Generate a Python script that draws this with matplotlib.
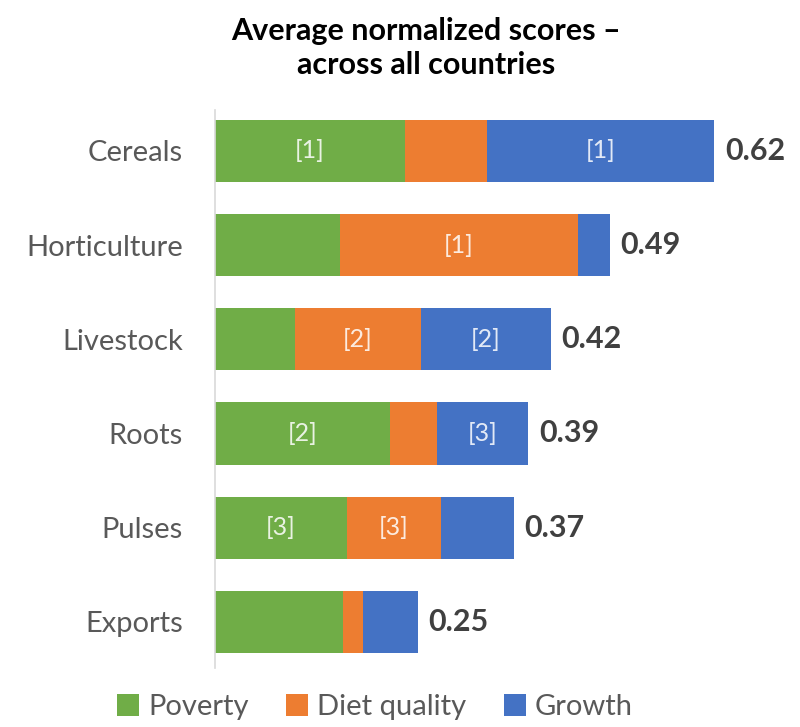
import matplotlib
matplotlib.use("Agg")
import matplotlib.pyplot as plt
import numpy as np

categories = ["Cereals", "Horticulture", "Livestock", "Roots", "Pulses", "Exports"]
poverty = [0.236, 0.155, 0.099, 0.217, 0.164, 0.159]
diet_quality = [0.102, 0.296, 0.157, 0.058, 0.116, 0.025]
growth = [0.282, 0.039, 0.161, 0.114, 0.091, 0.068]
totals = ["0.62", "0.49", "0.42", "0.39", "0.37", "0.25"]
poverty_rank = ["[1]", "", "", "[2]", "[3]", ""]
diet_rank = ["", "[1]", "[2]", "", "[3]", ""]
growth_rank = ["[1]", "", "[2]", "[3]", "", ""]
series_names = ["Poverty", "Diet quality", "Growth"]
colors = ["#70AD47", "#ED7D31", "#4472C4"]

plt.rcParams['font.family'] = ['Lato', 'DejaVu Sans']

fig = plt.figure(figsize=(8.0, 7.27), dpi=100)
W, H = 800, 727
ax = fig.add_axes([215 / W, 1 - 668 / H, 580 / W, (668 - 110) / H])

y = np.arange(len(categories))
bar_h = 0.66
series = [poverty, diet_quality, growth]
ranks = [poverty_rank, diet_rank, growth_rank]
left = np.zeros(len(categories))
for vals, col, name, rk in zip(series, colors, series_names, ranks):
    vals = np.array(vals)
    ax.barh(y, vals, left=left, height=bar_h, color=col, label=name)
    for i, (l, v, t) in enumerate(zip(left, vals, rk)):
        if t:
            ax.text(l + v / 2, y[i], t, ha='center', va='center',
                    fontsize=18, color='white', alpha=0.85)
    left = left + vals

for i, (tot, lab) in enumerate(zip(left, totals)):
    ax.text(tot + 0.013, y[i], lab, ha='left', va='center', fontsize=22,
            fontweight='bold', color='#404040')

ax.set_xlim(0, 0.72)
ax.set_ylim(len(categories) - 1 + 0.49, -0.435)
ax.set_yticks(y)
ax.set_yticklabels(categories, fontsize=21, color='#595959')
ax.tick_params(axis='y', length=0, pad=23)
ax.set_xticks([])
for s in ['top', 'right', 'bottom']:
    ax.spines[s].set_visible(False)
ax.spines['left'].set_color('#D9D9D9')
ax.spines['left'].set_linewidth(1.2)

fig.text(426 / W, 1 - 48 / H, "Average normalized scores \u2013\nacross all countries",
         ha='center', va='center', fontsize=22, fontweight='bold',
         color='#000000', linespacing=1.25)

handles, labels = ax.get_legend_handles_labels()
fig.legend(handles, labels, loc='center', bbox_to_anchor=(375 / W, 1 - 707 / H),
           ncol=3, frameon=False, fontsize=21, handlelength=0.75, handleheight=0.75,
           handletextpad=0.3, columnspacing=1.3, labelcolor='#595959')

fig.savefig("out.png", dpi=100)
